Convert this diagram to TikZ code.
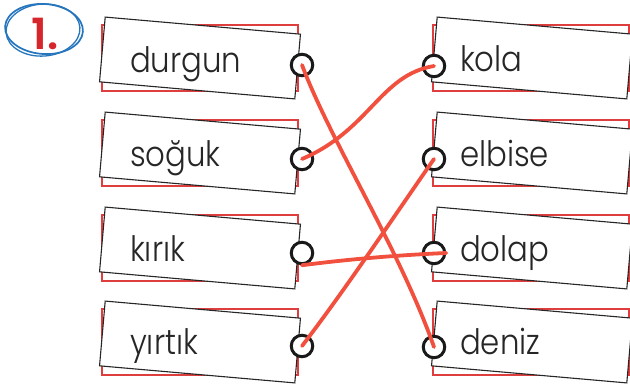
\documentclass[tikz,border=0pt]{standalone}
\usepackage{fontspec}
\newfontfamily\wordfont{Poppins Light}[FakeStretch=0.88]
\newfontfamily\numfont{Poppins SemiBold}
\usetikzlibrary{positioning}
\definecolor{cardred}{RGB}{222,62,62}
\definecolor{linered}{RGB}{242,80,62}
\definecolor{markblue}{RGB}{38,118,190}
\definecolor{markred}{RGB}{214,38,44}
\tikzstyle{shadow_card} = [rectangle, draw=cardred, line width=1.3pt, minimum width=196pt, minimum height=66pt, inner sep=0pt]
\tikzstyle{card} = [rectangle, draw=black!85, fill=white, line width=1.1pt, minimum width=196pt, minimum height=65pt, inner sep=0pt, rotate=-5]
\tikzstyle{word} = [anchor=base west, inner sep=0pt, font=\wordfont\fontsize{35}{35}\selectfont, text=black!85]
\tikzstyle{dot} = [circle, draw=black!90, fill=white, line width=3pt, minimum size=21.5pt, inner sep=0pt]
\tikzstyle{match_line} = [line width=3.8pt, linered, line cap=round]

\begin{document}
\begin{tikzpicture}[x=1pt, y=-1pt]

    \useasboundingbox (0, 0) rectangle (630, 390);

    % task number
    \draw [markblue, line width=1.7pt, rotate around={-4:(44, 29)}] (44, 29) ellipse [x radius=39, y radius=25];
    \draw [markblue, line width=1.3pt, rotate around={4:(44, 30)}] (43, 30) ellipse [x radius=37, y radius=26];
    \node (number) [anchor=base, inner sep=0pt, text=markred, font=\numfont\fontsize{43}{43}\selectfont] at (45, 50) {1.};

    % left column
    \node (durgun_back) [shadow_card] at (200, 58) {};
    \node (soguk_back) [shadow_card] at (200, 153) {};
    \node (kirik_back) [shadow_card] at (200, 248) {};
    \node (yirtik_back) [shadow_card] at (200, 342) {};

    \node (durgun_card) [card] at (200, 58) {};
    \node (soguk_card) [card] at (200, 153) {};
    \node (kirik_card) [card] at (200, 248) {};
    \node (yirtik_card) [card] at (200, 342) {};

    \node (durgun) [word] at (130, 73) {durgun};
    \node (soguk) [word] at (130, 167) {soğuk};
    \node (kirik) [word] at (130, 262) {kırık};
    \node (yirtik) [word] at (130, 355) {yırtık};

    % right column
    \node (kola_back) [shadow_card] at (531, 58) {};
    \node (elbise_back) [shadow_card] at (531, 153) {};
    \node (dolap_back) [shadow_card] at (531, 248) {};
    \node (deniz_back) [shadow_card] at (531, 342) {};

    \node (kola_card) [card] at (532, 58) {};
    \node (elbise_card) [card] at (532, 153) {};
    \node (dolap_card) [card] at (532, 248) {};
    \node (deniz_card) [card] at (532, 342) {};

    \node (kola) [word] at (460, 72) {kola};
    \node (elbise) [word] at (460, 167) {elbise};
    \node (dolap) [word] at (460, 262) {dolap};
    \node (deniz) [word] at (460, 355) {deniz};

    % dots
    \node (durgun_dot) [dot] at (302, 65) {};
    \node (soguk_dot) [dot] at (302, 159) {};
    \node (kirik_dot) [dot] at (302, 253) {};
    \node (yirtik_dot) [dot] at (302, 346) {};

    \node (kola_dot) [dot] at (434, 66) {};
    \node (elbise_dot) [dot] at (434, 159) {};
    \node (dolap_dot) [dot] at (434, 253) {};
    \node (deniz_dot) [dot] at (434, 347) {};

    % matches
    \draw [match_line] (durgun_dot.center) .. controls (330, 140) and (400, 250) .. (deniz_dot.center);
    \draw [match_line] (soguk_dot.center) .. controls (370, 130) and (380, 75) .. (kola_dot.center);
    \draw [match_line] (kirik_dot.south) .. controls (350, 259) and (400, 255) .. (dolap_dot.east);
    \draw [match_line] (yirtik_dot.center) .. controls (345, 290) and (395, 215) .. (elbise_dot.center);

\end{tikzpicture}
\end{document}
